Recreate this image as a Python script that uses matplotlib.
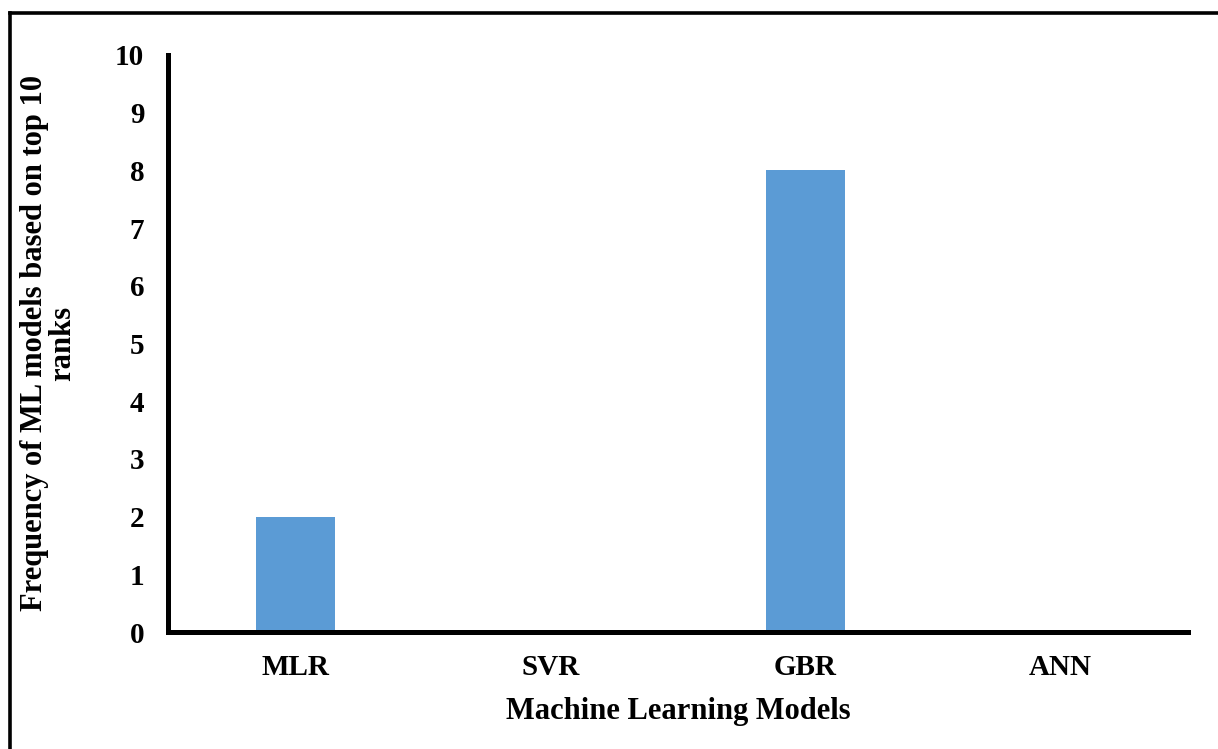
import matplotlib
matplotlib.use("Agg")
import matplotlib.pyplot as plt
from matplotlib.lines import Line2D

# Top-10 rank frequency for each ML model
models = ["MLR", "SVR", "GBR", "ANN"]
frequency = [2, 0, 8, 0]
yticks = list(range(0, 11))

plt.rcParams["font.family"] = ["Liberation Serif", "DejaVu Serif"]
plt.rcParams["font.weight"] = "bold"

fig = plt.figure(figsize=(12.18, 7.49), dpi=100)
ax = fig.add_axes([0.1379, 0.1562, 0.8375, 0.7704])

ax.bar(models, frequency, width=0.31, color="#5B9BD5")

ax.set_ylim(0, 10)
ax.set_yticks(yticks)
ax.set_xlim(-0.5, 3.5)

for side in ["top", "right"]:
    ax.spines[side].set_visible(False)
for side in ["left", "bottom"]:
    ax.spines[side].set_linewidth(3.6)
    ax.spines[side].set_capstyle("projecting")

ax.tick_params(axis="y", length=0, pad=17, labelsize=21)
ax.tick_params(axis="x", length=0, pad=16, labelsize=21)
for lbl in ax.get_xticklabels() + ax.get_yticklabels():
    lbl.set_fontweight("bold")

ax.set_xlabel("Machine Learning Models", fontsize=22, fontweight="bold", labelpad=11)
ax.set_ylabel("Frequency of ML models based on top 10\nranks", fontsize=22,
              fontweight="bold", labelpad=27, linespacing=1.0)

# outer frame: left and top edges only
fig.add_artist(Line2D([10 / 1218, 10 / 1218], [0, 1 - 13 / 749],
                      transform=fig.transFigure, color="black", lw=2.6))
fig.add_artist(Line2D([10 / 1218, 1], [1 - 13 / 749, 1 - 13 / 749],
                      transform=fig.transFigure, color="black", lw=2.6))

fig.savefig("out.png", dpi=100)
